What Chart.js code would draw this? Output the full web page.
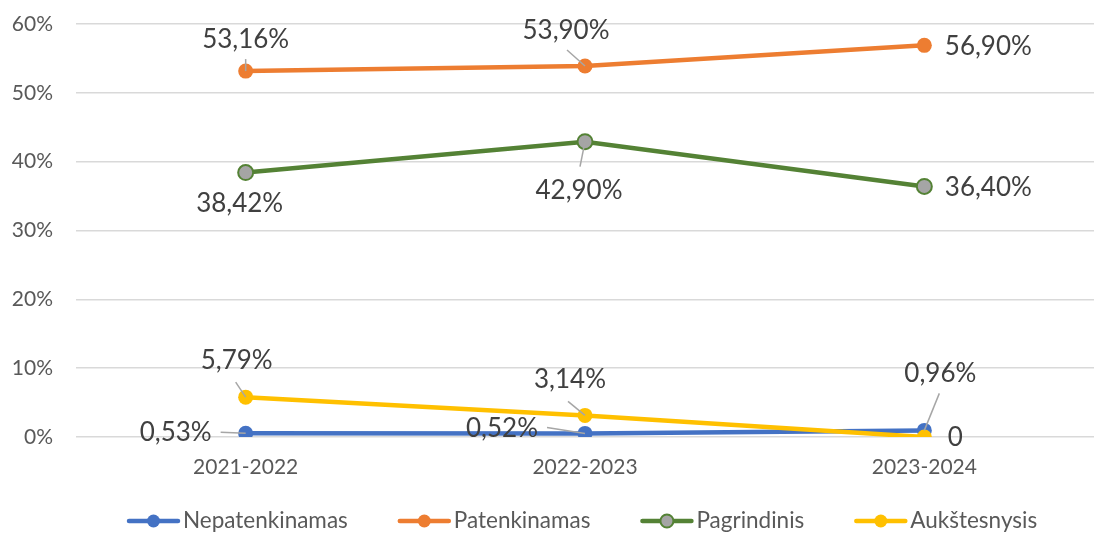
<!DOCTYPE html>
<html lang="lt">
<head>
  <meta charset="UTF-8" />
  <title>Pasiekimų lygiai</title>
  <script src="https://cdn.jsdelivr.net/npm/chart.js"></script>
  <style>
    html, body { margin: 0; padding: 0; background: #fff; }
    #wrap { width: 1094px; height: 552px; }
  </style>
</head>
<body>
  <div id="wrap"><canvas id="grafikas"></canvas></div>

  <script>
    // duomenys
    const metai = ['2021-2022', '2022-2023', '2023-2024'];
    const nepatenkinamas = [0.53, 0.52, 0.96];
    const patenkinamas = [53.16, 53.90, 56.90];
    const pagrindinis = [38.42, 42.90, 36.40];
    const aukstesnysis = [5.79, 3.14, 0];
    const yTicks = [0, 10, 20, 30, 40, 50, 60];

    const FONT = 'Lato, "Open Sans", sans-serif';

    // etikečių vieta: [dx, dy, linijos pradžia dx, dy] nuo taško
    const zymes = [
      [[-70, -1, -25, -1], [-83, -5, -38, -6], [16, -57, 15, -37]],
      [[0, -31, 0, -12], [-19, -35, -18, -16], [64, 1]],
      [[-6, 31], [-6, 49, -5, 25], [64, 1]],
      [[-9, -37, -10, -15], [-15, -36, -17, -14], [31, 1]]
    ];

    function fmt(v) {
      if (v === 0) return '0';
      return v.toFixed(2).replace('.', ',') + '%';
    }

    const serijos = [
      { label: 'Nepatenkinamas', data: nepatenkinamas, color: '#4472c4', fill: '#4472c4', order: 4 },
      { label: 'Patenkinamas', data: patenkinamas, color: '#ed7d31', fill: '#ed7d31', order: 3 },
      { label: 'Pagrindinis', data: pagrindinis, color: '#548235', fill: '#a5a5a5', order: 2 },
      { label: 'Aukštesnysis', data: aukstesnysis, color: '#ffc000', fill: '#ffc000', order: 1 }
    ];

    const etiketes = {
      id: 'etiketes',
      afterDatasetsDraw(chart) {
        const ctx = chart.ctx;
        ctx.save();
        chart.data.datasets.forEach((ds, i) => {
          const meta = chart.getDatasetMeta(i);
          meta.data.forEach((pt, j) => {
            const z = zymes[i][j];
            if (z.length > 2) {
              ctx.strokeStyle = '#a6a6a6';
              ctx.lineWidth = 1.5;
              ctx.beginPath();
              ctx.moveTo(pt.x + z[2], pt.y + z[3]);
              ctx.lineTo(pt.x, pt.y);
              ctx.stroke();
            }
          });
        });
        ctx.font = '26px ' + FONT;
        ctx.fillStyle = '#404040';
        ctx.textAlign = 'center';
        ctx.textBaseline = 'middle';
        chart.data.datasets.forEach((ds, i) => {
          const meta = chart.getDatasetMeta(i);
          meta.data.forEach((pt, j) => {
            const z = zymes[i][j];
            ctx.fillText(fmt(ds.data[j]), pt.x + z[0], pt.y + z[1]);
          });
        });
        ctx.restore();
      }
    };

    const legenda = {
      id: 'legenda',
      afterDraw(chart) {
        const ctx = chart.ctx;
        ctx.save();
        ctx.font = '22.5px ' + FONT;
        ctx.textBaseline = 'middle';
        let x = 127;
        const y = 521;
        serijos.forEach(s => {
          ctx.strokeStyle = s.color;
          ctx.lineWidth = 4.5;
          ctx.lineCap = 'round';
          ctx.beginPath();
          ctx.moveTo(x + 2, y);
          ctx.lineTo(x + 51, y);
          ctx.stroke();
          ctx.beginPath();
          ctx.arc(x + 26.5, y, 6.5, 0, Math.PI * 2);
          ctx.fillStyle = s.fill;
          ctx.fill();
          if (s.fill !== s.color) {
            ctx.lineWidth = 2;
            ctx.stroke();
          }
          ctx.fillStyle = '#595959';
          ctx.fillText(s.label, x + 56, y);
          x += 56 + ctx.measureText(s.label).width + 50;
        });
        ctx.restore();
      }
    };

    new Chart(document.getElementById('grafikas'), {
      type: 'line',
      data: {
        labels: metai,
        datasets: serijos.map(s => ({
          label: s.label,
          data: s.data,
          order: s.order,
          borderColor: s.color,
          backgroundColor: s.fill,
          pointBackgroundColor: s.fill,
          pointBorderColor: s.color,
          pointBorderWidth: s.fill !== s.color ? 2 : 0,
          pointRadius: 7.5,
          borderWidth: 4.5,
          tension: 0
        }))
      },
      options: {
        responsive: true,
        maintainAspectRatio: false,
        animation: false,
        layout: { autoPadding: false, padding: { top: 24, right: -6, bottom: 75, left: 0 } },
        plugins: {
          legend: { display: false },
          tooltip: { enabled: false }
        },
        scales: {
          x: {
            offset: true,
            grid: { display: false, drawTicks: false },
            border: { display: false },
            ticks: { color: '#595959', font: { family: FONT, size: 21 }, padding: 18 },
            afterFit: s => { s.height = 40; s.paddingLeft = 0; s.paddingRight = 0; }
          },
          y: {
            min: 0,
            max: 60,
            afterBuildTicks: s => { s.ticks = yTicks.map(v => ({ value: v })); },
            grid: { color: '#d9d9d9', lineWidth: 1.5, drawTicks: false },
            border: { display: false },
            ticks: {
              color: '#595959',
              font: { family: FONT, size: 21 },
              padding: 23,
              callback: v => v + '%'
            },
            afterFit: s => { s.width = 76; s.paddingTop = 0; s.paddingBottom = 0; }
          }
        }
      },
      plugins: [etiketes, legenda]
    });
  </script>
</body>
</html>
